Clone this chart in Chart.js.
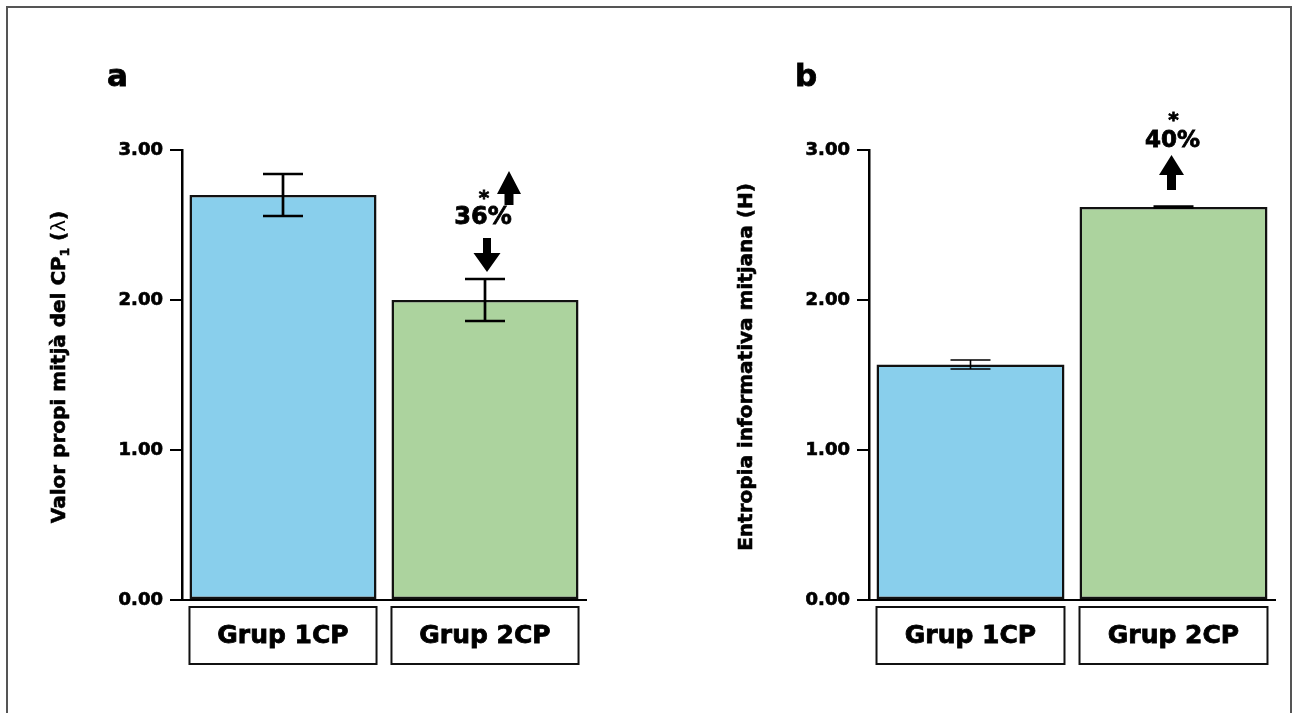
<!DOCTYPE html>
<html>
<head>
<meta charset="utf-8">
<script src="https://cdn.jsdelivr.net/npm/chart.js@4"></script>
<style>
  html, body { margin: 0; padding: 0; background: #fff; overflow: hidden; }
  #page { position: relative; width: 1293px; height: 713px; }
  #frame { position: absolute; left: 6px; top: 6px; width: 1282px; height: 730px;
           border: 2px solid #555; border-bottom: none; }
  .pane { position: absolute; top: 0; height: 713px; }
  #paneA { left: 0; width: 646px; }
  #paneB { left: 646px; width: 647px; }
</style>
</head>
<body>
<div id="page">
  <div id="frame"></div>
  <div class="pane" id="paneA"><canvas id="chartA"></canvas></div>
  <div class="pane" id="paneB"><canvas id="chartB"></canvas></div>
</div>
<script>
/* ── dades ─────────────────────────────────────────── */
const GROUPS       = ['Grup 1CP', 'Grup 2CP'];
const EIGEN_MEAN   = [2.70, 2.00];     // valor propi mitjà del CP1
const EIGEN_SEM    = [0.14, 0.14];
const ENTROPY_MEAN = [1.57, 2.62];     // entropia informativa mitjana
const ENTROPY_SEM  = [0.03, 0.006];
const CHANGE_PCT   = [36, 40];         // canvi del grup 2CP (a, b)
const Y_MIN = 0, Y_MAX = 3, Y_STEP = 1;
const BAR_COLORS = ['#89cfec', '#acd39e'];
const FONT = 'DejaVu Sans';
const INK  = '#000';

/* ── helpers de dibuix ─────────────────────────────── */
function arrow(ctx, x, tipY, tailY, headLen, headW, shaftW) {
  const dir = Math.sign(tailY - tipY);
  const baseY = tipY + dir * headLen;
  ctx.beginPath();
  ctx.moveTo(x, tipY);
  ctx.lineTo(x + headW / 2, baseY);
  ctx.lineTo(x + shaftW / 2, baseY);
  ctx.lineTo(x + shaftW / 2, tailY);
  ctx.lineTo(x - shaftW / 2, tailY);
  ctx.lineTo(x - shaftW / 2, baseY);
  ctx.lineTo(x - headW / 2, baseY);
  ctx.closePath();
  ctx.fill();
}

// text en negreta, amb un traç fi per fer-lo una mica més gruixut
function text(ctx, str, x, y, size, align) {
  ctx.font = `bold ${size}px "${FONT}"`;
  ctx.textAlign = align || 'center';
  ctx.textBaseline = 'alphabetic';
  ctx.lineWidth = 0.8;
  ctx.strokeStyle = INK;
  ctx.fillText(str, x, y);
  ctx.strokeText(str, x, y);
}

// títol vertical amb trossos de mida/pes diferent (subíndex, lletra grega)
function rotatedRuns(ctx, baseX, cy, runs) {
  ctx.save();
  let total = 0;
  runs.forEach(r => {
    ctx.font = `${r.weight || 'bold'} ${r.size}px "${FONT}"`;
    r.w = ctx.measureText(r.text).width;
    total += r.w;
  });
  ctx.translate(baseX, cy);
  ctx.rotate(-Math.PI / 2);
  ctx.textAlign = 'left';
  ctx.textBaseline = 'alphabetic';
  ctx.strokeStyle = INK;
  ctx.lineWidth = 0.6;
  let x = -total / 2;
  runs.forEach(r => {
    ctx.font = `${r.weight || 'bold'} ${r.size}px "${FONT}"`;
    ctx.fillText(r.text, x, r.dy || 0);
    if (r.weight !== 'normal') ctx.strokeText(r.text, x, r.dy || 0);
    x += r.w;
  });
  ctx.restore();
}

/* ── plugins ───────────────────────────────────────── */
function errorBars(sem, lw) {
  return {
    id: 'errorBars',
    afterDatasetsDraw(chart) {
      const {ctx, scales: {y}} = chart;
      const meta = chart.getDatasetMeta(0);
      const vals = chart.data.datasets[0].data;
      ctx.save();
      ctx.strokeStyle = INK;
      ctx.lineWidth = lw;
      meta.data.forEach((bar, i) => {
        const top = y.getPixelForValue(vals[i] + sem[i]);
        const bot = y.getPixelForValue(vals[i] - sem[i]);
        const half = 20;
        ctx.beginPath();
        ctx.moveTo(bar.x, top); ctx.lineTo(bar.x, bot);
        ctx.moveTo(bar.x - half, top); ctx.lineTo(bar.x + half, top);
        ctx.moveTo(bar.x - half, bot); ctx.lineTo(bar.x + half, bot);
        ctx.stroke();
      });
      ctx.restore();
    }
  };
}

function decor(cfg) {
  return {
    id: 'decor',
    afterDraw(chart) {
      const {ctx, chartArea, scales: {y}} = chart;
      const meta = chart.getDatasetMeta(0);
      ctx.save();
      ctx.fillStyle = INK;

      // lletra del panell
      text(ctx, cfg.letter, cfg.letterX, 86, 31, 'left');

      // títol de l'eix Y
      rotatedRuns(ctx, chartArea.left - 117, 367, cfg.titleRuns);

      // caixes de les categories
      meta.data.forEach((bar, i) => {
        const l = bar.x - bar.width / 2;
        ctx.strokeStyle = '#111';
        ctx.lineWidth = 2;
        ctx.strokeRect(l, 607, bar.width, 57);
        text(ctx, GROUPS[i], bar.x, 643, 25);
      });

      // anotació del canvi sobre el grup 2CP
      const bar = meta.data[1];
      const vals = chart.data.datasets[0].data;
      const capTop = y.getPixelForValue(vals[1] + cfg.sem[1]);
      cfg.annotate(ctx, bar, capTop);
      ctx.restore();
    }
  };
}

/* ── gràfic ────────────────────────────────────────── */
function makeChart(id, mean, cfg) {
  return new Chart(document.getElementById(id), {
    type: 'bar',
    data: {
      labels: GROUPS,
      datasets: [{
        data: mean,
        backgroundColor: BAR_COLORS,
        borderColor: '#111',
        borderWidth: 2.5,
        borderSkipped: false,
        barPercentage: 0.926,
        categoryPercentage: 1
      }]
    },
    options: {
      responsive: true,
      maintainAspectRatio: false,
      animation: false,
      layout: { padding: { left: 0, top: 150, right: cfg.padRight, bottom: 113 } },
      plugins: { legend: { display: false }, tooltip: { enabled: false } },
      scales: {
        x: {
          grid: { display: false },
          ticks: { display: false },
          border: { display: true, color: INK, width: 2 },
          afterFit: s => { s.height = 0; }
        },
        y: {
          min: Y_MIN, max: Y_MAX,
          ticks: {
            stepSize: Y_STEP,
            callback: v => v.toFixed(2),
            font: { family: FONT, weight: 'bold', size: 18 },
            color: INK,
            textStrokeColor: INK,
            textStrokeWidth: 0.7,
            padding: 7
          },
          grid: { drawOnChartArea: false, drawTicks: true, tickLength: 12, color: INK, lineWidth: 2 },
          border: { display: true, color: INK, width: 2.5 },
          afterFit: s => { s.width = cfg.axisX; }
        }
      }
    },
    plugins: [errorBars(cfg.sem, cfg.errLw), decor(cfg)]
  });
}

makeChart('chartA', EIGEN_MEAN, {
  letter: 'a', letterX: 107, axisX: 182, padRight: 60,
  sem: EIGEN_SEM, errLw: 2.7,
  titleRuns: [
    { text: 'Valor propi mitjà del CP', size: 20 },
    { text: '1', size: 12, dy: 4 },
    { text: ' (', size: 20 },
    { text: 'λ', size: 20, weight: 'normal' },
    { text: ')', size: 20 }
  ],
  annotate(ctx, bar, capTop) {
    const tip = capTop - 7;
    arrow(ctx, bar.x + 2, tip, tip - 34, 19, 27, 8);          // baixada
    text(ctx, CHANGE_PCT[0] + '%', bar.x - 2, tip - 48, 24);
    text(ctx, '*', bar.x - 1, tip - 68, 20);
    arrow(ctx, bar.x + 24, tip - 101, tip - 67, 23, 24, 9);   // significació
  }
});

makeChart('chartB', ENTROPY_MEAN, {
  letter: 'b', letterX: 149, axisX: 223, padRight: 18,
  sem: ENTROPY_SEM, errLw: 1.6,
  titleRuns: [
    { text: 'Entropia informativa mitjana (H)', size: 20 }
  ],
  annotate(ctx, bar, capTop) {
    const tail = capTop - 16;
    arrow(ctx, bar.x - 2, tail - 35, tail, 20, 25, 9);
    text(ctx, CHANGE_PCT[1] + '%', bar.x - 1, tail - 43, 23);
    text(ctx, '*', bar.x, tail - 64, 20);
  }
});
</script>
</body>
</html>
